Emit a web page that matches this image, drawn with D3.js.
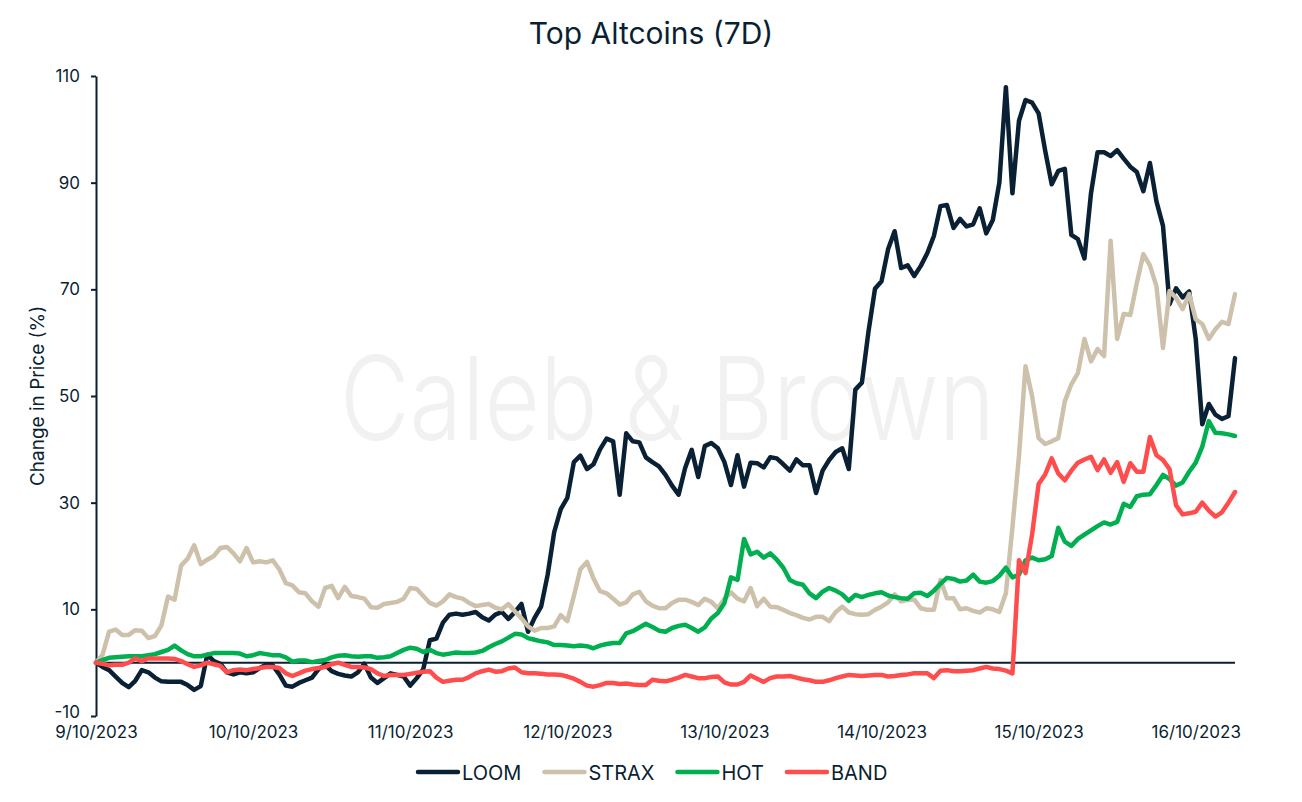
<!DOCTYPE html>
<html>
<head>
<meta charset="utf-8">
<script src="https://cdn.jsdelivr.net/npm/d3@7/dist/d3.min.js"></script>
<style>
  html, body { margin: 0; padding: 0; background: #ffffff; }
  svg { display: block; }
  text { font-family: "Inter", "Noto Sans", sans-serif; fill: #0b1f33; }
</style>
</head>
<body>
<svg id="chart" width="1302" height="802"></svg>
<script>
// ---------------- DATA (hourly % change from 9/10/2023 00:00) ----------------
const seriesNames = ["LOOM", "STRAX", "HOT", "BAND"];
const seriesColors = ["#0a2034", "#cdc1ab", "#00b050", "#ff4d4d"];

const LOOM = [
  0, -0.8, -1.4, -2.6, -3.8, -4.6, -3.4, -1.4, -1.8, -2.8,
  -3.5, -3.6, -3.6, -3.6, -4.2, -5.1, -4.4, 1.5, 0.3, -0.2,
  -1.8, -2.2, -1.8, -2.0, -1.8, -1.0, -0.4, -0.5, -2.2, -4.3,
  -4.5, -3.8, -3.3, -2.8, -1.2, -0.4, -1.6, -2.1, -2.4, -2.6,
  -1.8, -0.2, -2.8, -3.8, -2.9, -2.0, -2.3, -2.6, -4.3, -2.9,
  -1.2, 4.2, 4.5, 7.5, 9.0, 9.2, 9.0, 9.2, 9.5, 8.5,
  7.9, 9.0, 9.5, 8.2, 9.5, 11.0, 5.8, 8.4, 10.5, 16.5,
  24.5, 28.8, 30.9, 37.6, 38.8, 36.3, 37.2, 40.0, 42.0, 41.5,
  31.5, 43.0, 41.5, 41.3, 38.5, 37.6, 36.8, 35.2, 33.2, 31.5,
  36.5, 39.9, 34.8, 40.6, 41.2, 40.2, 37.6, 33.3, 38.9, 33.0,
  37.5, 37.4, 36.6, 38.5, 38.3, 37.2, 36.0, 38.1, 37.0, 37.0,
  31.8, 36.0, 38.0, 39.5, 40.2, 36.3, 51.2, 52.5, 62.0, 70.1,
  71.5, 77.5, 80.9, 74.0, 74.5, 72.5, 74.4, 76.8, 80.0, 85.6,
  85.8, 81.5, 83.2, 81.8, 82.2, 85.2, 80.5, 83.0, 90.0, 107.9,
  88.0, 101.6, 105.5, 105.0, 103.0, 96.0, 89.7, 92.2, 92.6, 80.2,
  79.4, 75.8, 88.0, 95.7, 95.7, 95.0, 96.1, 94.5, 93.0, 92.0,
  88.4, 93.7, 86.5, 81.9, 67.2, 70.2, 68.5, 69.6, 60.7, 44.7,
  48.5, 46.5, 45.7, 46.2, 57.1
];

const STRAX = [
  0, 1.5, 5.8, 6.2, 5.2, 5.2, 6.1, 6.0, 4.6, 5.0,
  7.0, 12.4, 11.8, 18.2, 19.5, 22.0, 18.5, 19.3, 20.0, 21.5,
  21.7, 20.5, 19.0, 21.5, 18.8, 19.0, 18.8, 19.2, 17.5, 14.9,
  14.5, 13.2, 13.0, 11.5, 10.5, 14.0, 14.4, 12.1, 14.2, 12.5,
  12.3, 12.0, 10.4, 10.3, 11.0, 11.2, 11.4, 12.0, 14.0, 13.8,
  12.5, 11.2, 10.7, 11.5, 12.8, 12.3, 12.0, 11.2, 10.6, 10.8,
  11.0, 10.3, 10.0, 11.0, 9.6, 8.3, 6.8, 6.0, 6.5, 6.5,
  6.8, 8.9, 7.8, 12.5, 17.5, 18.9, 15.8, 13.4, 13.0, 12.0,
  10.9, 11.3, 12.8, 13.3, 11.5, 10.7, 10.2, 10.2, 11.2, 11.8,
  11.8, 11.4, 10.8, 12.0, 11.4, 10.2, 12.0, 13.2, 12.0, 11.5,
  14.0, 10.6, 12.0, 10.5, 10.4, 9.9, 9.3, 8.9, 8.4, 8.1,
  8.6, 8.6, 7.8, 9.5, 10.5, 9.4, 9.1, 9.0, 9.1, 9.9,
  10.5, 11.3, 12.8, 11.5, 11.8, 11.8, 10.2, 9.9, 9.9, 15.5,
  12.1, 12.1, 10.0, 10.2, 9.7, 9.4, 10.2, 10.0, 9.5, 13.0,
  25.4, 38.8, 55.6, 50.0, 42.1, 41.0, 41.5, 42.1, 49.0, 52.2,
  54.3, 60.7, 56.5, 58.8, 57.5, 79.1, 60.7, 65.4, 65.2, 71.2,
  76.6, 74.5, 70.6, 59.0, 69.7, 68.4, 66.3, 69.1, 64.4, 63.5,
  60.7, 62.5, 63.9, 63.5, 69.1
];

const HOT = [
  0, 0.5, 0.9, 1.0, 1.1, 1.2, 1.2, 1.2, 1.4, 1.6,
  2.0, 2.4, 3.2, 2.3, 1.6, 1.2, 1.2, 1.5, 1.8, 1.8,
  1.8, 1.8, 1.7, 1.2, 1.4, 1.8, 1.6, 1.4, 1.4, 1.0,
  0.2, 0.4, 0.4, 0.1, 0.3, 0.5, 1.0, 1.3, 1.4, 1.2,
  1.1, 1.2, 1.2, 0.9, 1.0, 1.2, 1.8, 2.4, 2.8, 2.6,
  2.0, 2.4, 1.8, 1.5, 1.7, 1.9, 1.8, 1.8, 1.9, 2.2,
  2.9, 3.5, 4.0, 4.7, 5.4, 5.3, 4.6, 4.3, 4.0, 3.8,
  3.3, 3.3, 3.2, 3.1, 3.2, 3.1, 2.7, 3.2, 3.5, 3.7,
  3.7, 5.5, 5.9, 6.6, 7.3, 6.7, 6.0, 5.8, 6.5, 6.9,
  7.1, 6.5, 5.8, 6.6, 8.3, 9.3, 11.2, 16.0, 15.5, 23.2,
  20.3, 20.8, 19.7, 20.5, 19.3, 17.8, 15.5, 14.9, 14.6, 13.0,
  12.1, 13.3, 14.0, 13.5, 12.8, 11.6, 12.7, 12.3, 12.7, 13.0,
  13.2, 12.6, 12.3, 12.1, 12.0, 13.0, 13.1, 12.5, 13.5, 14.8,
  15.9, 15.7, 15.2, 15.4, 16.5, 15.2, 15.0, 15.3, 16.3, 17.8,
  16.0, 16.5, 19.2, 19.7, 19.2, 19.4, 20.0, 25.3, 22.7, 21.9,
  23.2, 24.0, 24.8, 25.6, 26.3, 25.9, 26.4, 29.8, 29.2, 31.2,
  31.5, 31.6, 33.3, 35.2, 34.4, 33.2, 33.8, 35.8, 37.5, 40.5,
  45.3, 43.1, 43.0, 42.8, 42.5
];

const BAND = [
  0, -0.2, -0.5, -0.4, -0.4, 0.0, 0.8, 0.3, 0.8, 0.8,
  0.8, 0.8, 0.7, 0.3, -0.3, -0.8, -0.5, 0.0, -0.3, -0.6,
  -1.8, -1.4, -1.3, -1.4, -1.2, -1.0, -0.8, -0.8, -1.0, -2.0,
  -2.5, -2.0, -1.5, -1.2, -1.0, -0.8, -0.3, 0.0, -0.4, -0.8,
  -0.8, -0.9, -1.2, -2.0, -2.5, -2.3, -2.3, -2.3, -2.1, -1.9,
  -1.7, -1.6, -2.8, -3.6, -3.4, -3.2, -3.2, -2.7, -2.0, -1.6,
  -1.3, -1.7, -1.6, -1.1, -0.9, -1.8, -2.0, -2.0, -2.1, -2.2,
  -2.2, -2.3, -2.6, -3.0, -3.6, -4.3, -4.5, -4.2, -3.8, -3.8,
  -4.0, -3.9, -4.1, -4.2, -4.2, -3.2, -3.4, -3.5, -3.2, -2.8,
  -2.3, -2.6, -2.9, -2.9, -2.7, -2.6, -3.7, -4.1, -4.1, -3.6,
  -2.4, -3.0, -3.6, -2.9, -2.6, -2.6, -2.5, -2.8, -3.1, -3.3,
  -3.6, -3.6, -3.3, -2.9, -2.6, -2.3, -2.4, -2.5, -2.4, -2.3,
  -2.3, -2.6, -2.5, -2.3, -2.2, -2.0, -2.0, -2.0, -2.9, -1.5,
  -1.4, -1.6, -1.6, -1.5, -1.4, -1.1, -0.8, -1.1, -1.2, -1.5,
  -2.0, 19.2, 16.8, 24.0, 33.5, 35.3, 38.3, 35.5, 34.2, 36.0,
  37.5, 38.1, 38.6, 36.1, 38.1, 35.6, 37.6, 33.9, 37.4, 35.8,
  35.8, 42.3, 38.9, 38.0, 36.3, 29.5, 27.8, 28.0, 28.3, 30.0,
  28.5, 27.4, 28.2, 30.0, 32.0
];

const xTickLabels = ["9/10/2023", "10/10/2023", "11/10/2023", "12/10/2023",
                     "13/10/2023", "14/10/2023", "15/10/2023", "16/10/2023"];
const yTicks = [-10, 10, 30, 50, 70, 90, 110];
const yDomain = [-10, 110];

const titleText = "Top Altcoins (7D)";
const yTitleText = "Change in Price (%)";
const watermarkText = "Caleb & Brown";

// ---------------- CHART ----------------
const seriesData = [LOOM, STRAX, HOT, BAND];
const svg = d3.select("#chart");
const ink = "#0b1f33";

const margin = { left: 96, right: 1302 - 1235, top: 76, bottom: 802 - 716 };
const W = 1302, H = 802;

const start = new Date(2023, 9, 9, 0, 0, 0);
const nPts = LOOM.length;
const dates = d3.range(nPts).map(i => d3.timeHour.offset(start, i));

const x = d3.scaleTime()
  .domain([start, dates[nPts - 1]])
  .range([margin.left, W - margin.right]);

const y = d3.scaleLinear()
  .domain(yDomain)
  .range([H - margin.bottom, margin.top]);

// watermark
svg.append("text")
  .attr("x", 340)
  .attr("y", 440)
  .attr("textLength", 655)
  .attr("lengthAdjust", "spacingAndGlyphs")
  .style("font-size", "116px")
  .style("font-weight", 300)
  .style("fill", "#f1f1f1")
  .text(watermarkText);

// title
svg.append("text")
  .attr("x", W / 2)
  .attr("y", 44)
  .attr("text-anchor", "middle")
  .style("font-size", "30px")
  .style("font-weight", 400)
  .text(titleText);

// y axis title
svg.append("text")
  .attr("transform", `translate(44, ${(margin.top + H - margin.bottom) / 2}) rotate(-90)`)
  .attr("text-anchor", "middle")
  .style("font-size", "19px")
  .text(yTitleText);

// zero line
svg.append("line")
  .attr("x1", x.range()[0])
  .attr("x2", x.range()[1])
  .attr("y1", y(0))
  .attr("y2", y(0))
  .attr("stroke", ink)
  .attr("stroke-width", 2);

// y axis
const yAxis = svg.append("g")
  .attr("transform", `translate(${margin.left},0)`)
  .call(d3.axisLeft(y).tickValues(yTicks).tickSize(5).tickSizeOuter(0)
        .tickPadding(11).tickFormat(d => String(d)));
yAxis.select(".domain").attr("stroke", ink).attr("stroke-width", 2);
yAxis.selectAll(".tick line").attr("stroke", ink).attr("stroke-width", 2);
yAxis.selectAll(".tick text")
  .style("font-size", "17px")
  .style("font-family", "Inter, 'Noto Sans', sans-serif")
  .attr("fill", ink);
// lift the bottom label slightly so it clears the first date label
yAxis.selectAll(".tick text").filter(d => d === yDomain[0]).attr("dy", "0.1em");

// x axis (labels only)
const dayTicks = d3.range(xTickLabels.length).map(i => d3.timeDay.offset(start, i));
const xAxis = svg.append("g")
  .attr("transform", `translate(0,${H - margin.bottom})`)
  .call(d3.axisBottom(x).tickValues(dayTicks).tickSize(0).tickPadding(10)
        .tickFormat((d, i) => xTickLabels[i]));
xAxis.select(".domain").remove();
xAxis.selectAll(".tick text")
  .style("font-size", "17px")
  .style("font-family", "Inter, 'Noto Sans', sans-serif")
  .attr("fill", ink);

// lines
const line = d3.line()
  .x((d, i) => x(dates[i]))
  .y(d => y(d));

svg.append("g").selectAll("path")
  .data(seriesData)
  .join("path")
  .attr("d", d => line(d))
  .attr("fill", "none")
  .attr("stroke", (d, i) => seriesColors[i])
  .attr("stroke-width", 4.5)
  .attr("stroke-linejoin", "round")
  .attr("stroke-linecap", "round");

// legend
const legend = svg.append("g").attr("transform", "translate(0,772)");
let lx = 418;
seriesNames.forEach((name, i) => {
  const g = legend.append("g");
  g.append("line")
    .attr("x1", lx).attr("x2", lx + 40)
    .attr("y1", 0).attr("y2", 0)
    .attr("stroke", seriesColors[i])
    .attr("stroke-width", 4.5)
    .attr("stroke-linecap", "round");
  const t = g.append("text")
    .attr("x", lx + 44)
    .attr("y", 7.5)
    .style("font-size", "20px")
    .text(name);
  const w = t.node().getComputedTextLength();
  lx = lx + 44 + w + 23;
});
</script>
</body>
</html>
